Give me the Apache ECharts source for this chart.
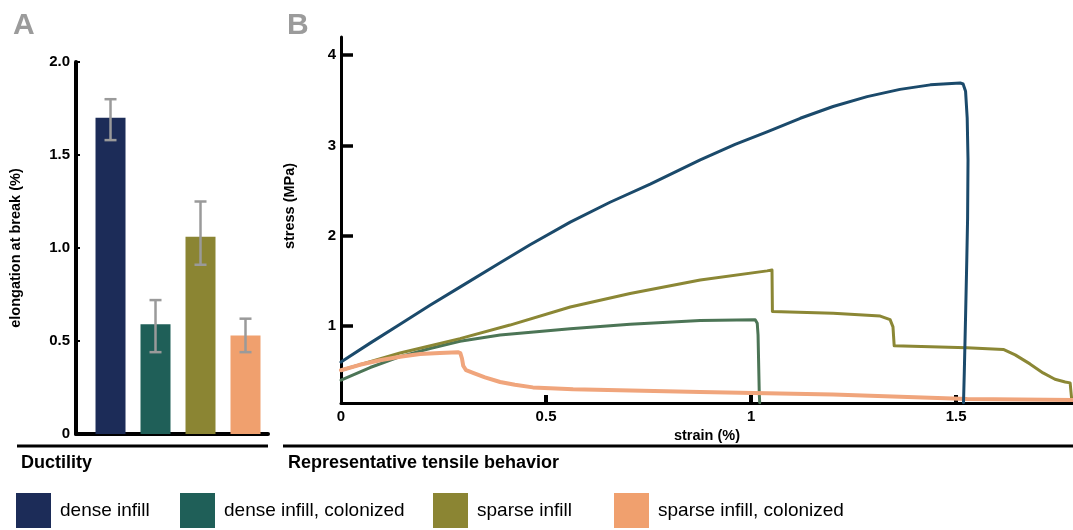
<!DOCTYPE html>
<html>
<head>
<meta charset="utf-8">
<script src="https://cdn.jsdelivr.net/npm/echarts@6/dist/echarts.min.js"></script>
<style>
  html, body { margin: 0; padding: 0; background: #fff; }
  #chart { width: 1073px; height: 530px; }
</style>
</head>
<body>
<div id="chart"></div>
<script>
  // panel A: elongation at break (%)
  const categories = ['dense infill', 'dense infill, colonized', 'sparse infill', 'sparse infill, colonized']
  const elongation = [1.70, 0.59, 1.06, 0.53]
  const errLow = [1.58, 0.44, 0.91, 0.44]
  const errHigh = [1.80, 0.72, 1.25, 0.62]
  const elongTicks = [0, 0.5, 1.0, 1.5, 2.0]

  // panel B: representative stress-strain curves [strain %, stress MPa]
  const denseCurve = [
    [0, 0.60], [0.071, 0.81], [0.144, 1.02], [0.217, 1.23], [0.290, 1.43],
    [0.388, 1.70], [0.461, 1.90], [0.559, 2.15], [0.656, 2.37], [0.754, 2.57],
    [0.876, 2.84], [0.961, 3.01], [1.039, 3.15], [1.120, 3.30], [1.200, 3.43],
    [1.283, 3.54], [1.363, 3.62], [1.437, 3.67], [1.510, 3.69], [1.517, 3.68],
    [1.523, 3.60], [1.527, 3.30], [1.529, 2.84], [1.528, 2.20], [1.526, 1.73],
    [1.523, 1.10], [1.520, 0.50], [1.518, 0.15]
  ]
  const denseColCurve = [
    [0, 0.40], [0.071, 0.54], [0.144, 0.66], [0.217, 0.75], [0.290, 0.83],
    [0.388, 0.90], [0.559, 0.97], [0.705, 1.02], [0.876, 1.06], [1.010, 1.07],
    [1.015, 1.03], [1.017, 0.90], [1.020, 0.25], [1.021, 0.15]
  ]
  const sparseCurve = [
    [0, 0.51], [0.144, 0.70], [0.290, 0.86], [0.412, 1.01], [0.559, 1.21],
    [0.705, 1.36], [0.876, 1.51], [1.039, 1.61], [1.051, 1.62], [1.052, 1.16],
    [1.200, 1.14], [1.315, 1.11], [1.339, 1.07], [1.346, 0.99], [1.349, 0.78],
    [1.526, 0.76], [1.615, 0.74], [1.644, 0.68], [1.680, 0.58], [1.712, 0.48],
    [1.741, 0.41], [1.766, 0.38], [1.778, 0.37], [1.782, 0.18]
  ]
  const sparseColCurve = [
    [0, 0.51], [0.046, 0.57], [0.095, 0.62], [0.144, 0.66], [0.193, 0.69],
    [0.241, 0.70], [0.285, 0.71], [0.291, 0.70], [0.295, 0.64], [0.298, 0.56],
    [0.305, 0.51], [0.322, 0.48], [0.351, 0.43], [0.388, 0.38], [0.424, 0.35],
    [0.468, 0.32], [0.566, 0.30], [0.876, 0.27], [1.200, 0.24], [1.527, 0.19],
    [1.785, 0.18]
  ]
  const strainTicks = [0, 0.5, 1, 1.5]
  const stressTicks = [1, 2, 3, 4]

  const barColors = ['#1c2c58', '#1f5f58', '#8b8533', '#f0a06e']
  const lineColors = ['#1b4a6b', '#4c7556', '#8b8735', '#f0a57c']
  const font = '"Liberation Sans", Arial, sans-serif'

  const chart = echarts.init(document.getElementById('chart'))

  // error bars drawn through the bar grid's own coords
  function errorBar(params, api) {
    const x = api.value(0)
    const top = api.coord([x, api.value(2)])
    const bot = api.coord([x, api.value(1)])
    const cap = 6
    const style = { stroke: '#9a9a9a', lineWidth: 2.5 }
    return {
      type: 'group',
      children: [
        { type: 'line', shape: { x1: top[0], y1: top[1], x2: bot[0], y2: bot[1] }, style },
        { type: 'line', shape: { x1: top[0] - cap, y1: top[1], x2: top[0] + cap, y2: top[1] }, style },
        { type: 'line', shape: { x1: bot[0] - cap, y1: bot[1], x2: bot[0] + cap, y2: bot[1] }, style }
      ]
    }
  }

  // one legend per item so each square sits where the figure has it
  const legends = categories.map((name, i) => ({
    left: [16, 180, 433, 614][i],
    top: 493,
    padding: 0,
    itemWidth: 35,
    itemHeight: 35,
    icon: 'rect',
    selectedMode: false,
    data: [{ name, itemStyle: { color: barColors[i] } }],
    textStyle: { fontFamily: font, fontSize: 19, color: '#000', padding: [0, 0, 0, 4] }
  }))

  function curve(idx, data, width) {
    return {
      name: categories[idx], type: 'line', xAxisIndex: 1, yAxisIndex: 1, showSymbol: false,
      color: lineColors[idx],
      lineStyle: { width, color: lineColors[idx], cap: 'round', join: 'round' },
      data
    }
  }

  chart.setOption({
    animation: false,
    textStyle: { fontFamily: font },
    title: [
      { text: 'A', left: 8, top: 6, textStyle: { fontSize: 30, fontWeight: 'bold', color: '#9b9b9b', fontFamily: font } },
      { text: 'B', left: 282, top: 6, textStyle: { fontSize: 30, fontWeight: 'bold', color: '#9b9b9b', fontFamily: font } },
      { text: 'Ductility', left: 16, top: 449, textStyle: { fontSize: 18, fontWeight: 'bold', color: '#000', fontFamily: font } },
      { text: 'Representative tensile behavior', left: 283, top: 449, textStyle: { fontSize: 18, fontWeight: 'bold', color: '#000', fontFamily: font } }
    ],
    legend: legends,
    graphic: [
      { type: 'line', shape: { x1: 17, y1: 446, x2: 268, y2: 446 }, style: { stroke: '#000', lineWidth: 3 } },
      { type: 'line', shape: { x1: 283, y1: 446, x2: 1073, y2: 446 }, style: { stroke: '#000', lineWidth: 3 } }
    ],
    grid: [
      { left: 76, top: 62, width: 192, height: 372 },
      { left: 341, top: 37, width: 732, height: 366 }
    ],
    xAxis: [
      {
        gridIndex: 0, type: 'value', min: -0.767, max: 3.5,
        axisLine: { onZero: false, lineStyle: { color: '#000', width: 4 } },
        axisTick: { show: false }, axisLabel: { show: false }, splitLine: { show: false }
      },
      {
        gridIndex: 1, type: 'value', min: 0, max: 1.785,
        name: 'strain (%)', nameLocation: 'middle', nameGap: 21,
        nameTextStyle: { fontSize: 14.5, fontWeight: 'bold', color: '#000', fontFamily: font },
        axisLine: { onZero: false, lineStyle: { color: '#000', width: 3 } },
        axisTick: { inside: true, length: 8, lineStyle: { color: '#000', width: 4 }, customValues: strainTicks.slice(1) },
        axisLabel: {
          customValues: strainTicks, margin: 6, fontSize: 15, fontWeight: 'bold', color: '#000', fontFamily: font,
          formatter: v => String(v)
        },
        splitLine: { show: false }
      }
    ],
    yAxis: [
      {
        gridIndex: 0, type: 'value', min: 0, max: 2, interval: 0.5,
        name: 'elongation at break (%)', nameLocation: 'middle', nameGap: 53,
        nameTextStyle: { fontSize: 14.5, fontWeight: 'bold', color: '#000', fontFamily: font },
        axisLine: { show: true, onZero: false, lineStyle: { color: '#000', width: 4 } },
        axisTick: { show: true, inside: true, length: 4, lineStyle: { color: '#000', width: 2 } },
        axisLabel: {
          margin: 6, fontSize: 15, fontWeight: 'bold', color: '#000', fontFamily: font,
          formatter: v => (v === 0 ? '0' : elongTicks.includes(v) ? v.toFixed(1) : '')
        },
        splitLine: { show: false }
      },
      {
        gridIndex: 1, type: 'value', min: 0.147, max: 4.2,
        name: 'stress (MPa)', nameLocation: 'middle', nameGap: 44,
        nameTextStyle: { fontSize: 14.5, fontWeight: 'bold', color: '#000', fontFamily: font, padding: [0, 0, 0, 28] },
        axisLine: { show: true, onZero: false, lineStyle: { color: '#000', width: 3 } },
        axisTick: { show: true, inside: true, length: 12, lineStyle: { color: '#000', width: 3.5 }, customValues: stressTicks },
        axisLabel: {
          customValues: stressTicks, margin: 5, fontSize: 15, fontWeight: 'bold', color: '#000', fontFamily: font
        },
        splitLine: { show: false }
      }
    ],
    series: [
      {
        name: 'elongation', type: 'bar', xAxisIndex: 0, yAxisIndex: 0, barWidth: 30,
        data: elongation.map((v, i) => ({ value: [i, v], itemStyle: { color: barColors[i] } }))
      },
      {
        name: 'error', type: 'custom', xAxisIndex: 0, yAxisIndex: 0, z: 5,
        renderItem: errorBar,
        data: elongation.map((v, i) => [i, errLow[i], errHigh[i]])
      },
      curve(1, denseColCurve, 3),
      curve(2, sparseCurve, 3),
      curve(3, sparseColCurve, 4),
      curve(0, denseCurve, 3)
    ]
  })

  window.addEventListener('resize', () => chart.resize())
</script>
</body>
</html>
